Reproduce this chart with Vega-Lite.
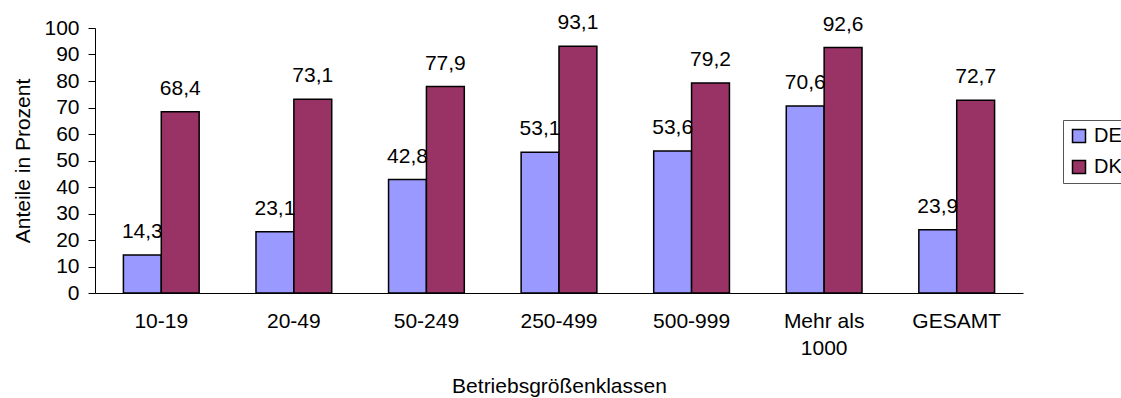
{
  "$schema": "https://vega.github.io/schema/vega-lite/v6.json",
  "autosize": {"type": "none"},
  "width": 928,
  "height": 265,
  "padding": {"left": 95, "top": 28, "right": 98, "bottom": 105},
  "background": "white",
  "config": {
    "view": {"stroke": null},
    "font": "Liberation Sans",
    "locale": {"number": {"decimal": ",", "thousands": ".", "grouping": [3], "currency": ["", " €"]}},
    "axis": {"labelFont": "Liberation Sans", "titleFont": "Liberation Sans", "labelColor": "black", "titleColor": "black", "domainColor": "black", "tickColor": "black", "grid": false, "labelFontSize": 21, "titleFontSize": 21, "titleFontWeight": "normal"},
    "legend": {"labelFont": "Liberation Sans", "labelFontSize": 20, "labelColor": "black"}
  },
  "data": {"values": [
    {"klasse": "10-19", "land": "DE", "wert": 14.3},
    {"klasse": "10-19", "land": "DK", "wert": 68.4},
    {"klasse": "20-49", "land": "DE", "wert": 23.1},
    {"klasse": "20-49", "land": "DK", "wert": 73.1},
    {"klasse": "50-249", "land": "DE", "wert": 42.8},
    {"klasse": "50-249", "land": "DK", "wert": 77.9},
    {"klasse": "250-499", "land": "DE", "wert": 53.1},
    {"klasse": "250-499", "land": "DK", "wert": 93.1},
    {"klasse": "500-999", "land": "DE", "wert": 53.6},
    {"klasse": "500-999", "land": "DK", "wert": 79.2},
    {"klasse": "Mehr als|1000", "land": "DE", "wert": 70.6},
    {"klasse": "Mehr als|1000", "land": "DK", "wert": 92.6},
    {"klasse": "GESAMT", "land": "DE", "wert": 23.9},
    {"klasse": "GESAMT", "land": "DK", "wert": 72.7}
  ]},
  "encoding": {
    "x": {
      "field": "klasse", "type": "nominal", "sort": null,
      "scale": {"paddingInner": 0.4286, "paddingOuter": 0.2143},
      "axis": {"title": "Betriebsgrößenklassen", "labelAngle": 0, "ticks": false, "labelPadding": 17, "titlePadding": 17, "labelExpr": "split(datum.label, '|')", "labelLineHeight": 27, "domainWidth": 1}
    },
    "xOffset": {"field": "land", "type": "nominal", "sort": ["DE", "DK"], "scale": {"paddingInner": 0, "paddingOuter": 0}},
    "y": {
      "field": "wert", "type": "quantitative",
      "scale": {"domain": [0, 100], "nice": false},
      "axis": {"title": "Anteile in Prozent", "values": [0,10,20,30,40,50,60,70,80,90,100], "tickSize": 7, "labelPadding": 9, "titlePadding": 10, "domainWidth": 1}
    }
  },
  "layer": [
    {
      "mark": {"type": "bar", "stroke": "black", "strokeWidth": 1.5},
      "encoding": {
        "color": {
          "field": "land", "type": "nominal",
          "scale": {"domain": ["DE", "DK"], "range": ["#9999FF", "#993366"]},
          "legend": {"title": null, "orient": "none", "legendX": 968, "legendY": 92, "strokeColor": "#555555", "padding": 6, "symbolType": "square", "symbolSize": 169, "symbolStrokeColor": "black", "symbolStrokeWidth": 1.5, "rowPadding": 11, "labelOffset": 5, "fillColor": "white"}
        }
      }
    },
    {
      "mark": {"type": "text", "baseline": "alphabetic", "dy": -17, "fontSize": 21, "color": "black"},
      "encoding": {
        "text": {"field": "wert", "type": "quantitative", "format": ".1f"}
      }
    }
  ]
}
